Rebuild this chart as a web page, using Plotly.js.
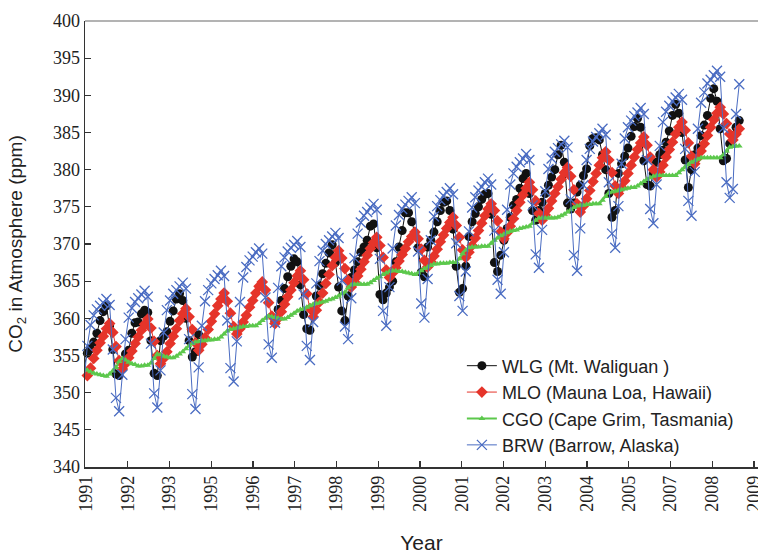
<!DOCTYPE html>
<html>
<head>
<meta charset="utf-8">
<script src="https://cdn.plot.ly/plotly-3.0.1.min.js"></script>
<style>html,body{margin:0;padding:0;background:#fff;}#chart{width:758px;height:554px;}</style>
</head>
<body>
<div id="chart"></div>
<script>
// Tick labels as printed on the original x axis (1994 and 2006 are absent there)
const yearLabels = ['1991','1992','1993','1995','1996','1997','1998','1999','2000','2001','2002','2003','2004','2005','2007','2008','2009'];

// Monthly CO2 (ppm)
const wlg = [
348.0,353.5,355.3,355.9,356.8,358.0,359.7,360.9,361.7,359.0,355.8,352.5,352.3,
354.2,355.2,355.7,358.0,359.4,359.5,360.6,361.1,360.8,357.0,352.6,352.3,
357.0,357.6,358.2,359.6,361.0,362.6,363.3,362.4,360.0,357.0,354.8,355.5,357.8,
null,null,null,null,null,null,null,null,null,null,null,null,null,null,null,null,null,null,null,null,null,null,null,
359.6,361.2,362.4,364.0,365.6,367.0,368.0,367.6,364.5,360.5,358.6,358.4,
361.0,363.0,364.4,366.0,367.4,368.8,369.9,367.5,364.2,361.0,359.7,363.0,
365.5,366.5,367.6,368.9,369.6,370.5,372.4,372.7,369.5,363.2,362.5,363.4,
364.2,365.0,367.6,369.6,371.8,374.2,374.2,373.0,371.5,369.5,366.2,365.6,
369.6,370.5,371.6,373.0,374.5,375.6,375.8,374.5,372.0,367.0,363.5,364.0,
367.0,371.0,373.0,374.1,375.0,376.0,376.7,376.8,374.0,367.5,366.3,368.5,
370.5,372.1,373.6,375.2,376.0,377.5,378.8,379.5,376.8,374.5,373.2,374.5,
375.6,376.8,377.9,379.0,380.0,382.0,383.3,381.0,375.5,374.7,375.5,377.0,
377.9,379.2,380.1,383.2,384.2,384.3,384.0,382.0,380.0,376.8,373.6,374.5,
379.5,380.8,381.8,382.9,384.5,385.8,386.9,385.7,381.2,378.0,377.8,379.5,
381.0,382.0,382.6,383.7,385.2,387.3,388.8,387.6,385.0,381.3,377.6,380.0,
382.0,382.9,384.6,386.0,387.3,389.6,390.9,389.2,385.5,381.2,381.5,383.5,
384.6,385.7,386.6];

const mlo = [
353.3,352.5,352.3,353.3,354.6,355.7,356.7,357.6,358.6,359.3,358.1,356.2,354.3,
353.2,353.9,354.7,355.6,356.6,357.5,358.4,359.2,359.9,358.7,356.9,355.0,
353.9,354.6,355.5,356.6,357.6,358.6,359.7,360.6,361.3,360.2,358.5,356.7,
355.7,356.5,357.4,358.5,359.6,360.6,361.7,362.6,363.4,362.3,360.7,358.9,
357.9,358.6,359.5,360.4,361.5,362.4,363.4,364.3,364.9,363.8,362.1,360.3,
359.3,360.0,360.9,361.9,362.9,363.8,364.8,365.7,366.4,365.2,363.3,361.3,
360.2,361.1,362.2,363.4,364.7,365.9,367.1,368.2,369.1,368.1,366.7,365.1,
364.2,364.9,365.7,366.6,367.6,368.5,369.4,370.2,370.9,369.8,368.2,366.5,
365.5,366.1,366.8,367.7,368.6,369.4,370.3,371.0,371.6,370.7,369.3,367.8,
366.9,367.6,368.4,369.3,370.3,371.2,372.1,372.9,373.6,372.5,370.9,369.2,
368.2,368.9,369.8,370.8,371.8,372.8,373.8,374.7,375.4,374.5,373.1,371.6,
370.7,371.5,372.4,373.4,374.5,375.6,376.6,377.5,378.3,377.3,375.8,374.1,
373.2,373.9,374.8,375.8,376.8,377.7,378.7,379.6,380.3,379.1,377.3,375.4,
374.3,375.1,376.1,377.2,378.4,379.5,380.6,381.6,382.4,381.3,379.6,377.8,
376.8,377.6,378.5,379.5,380.6,381.7,382.7,383.6,384.4,383.3,381.7,380.0,
379.0,379.7,380.6,381.7,382.7,383.7,384.8,385.7,386.4,385.3,383.6,381.8,
380.8,381.6,382.5,383.5,384.6,385.7,386.7,387.6,388.4,387.5,386.2,384.8,
384.0,384.8,385.5];

const cgo = [
353.6,353.3,353.0,352.8,352.6,352.5,352.4,352.3,352.2,352.5,352.9,353.4,354.2,
354.6,354.4,354.1,353.9,353.8,353.6,353.6,353.7,353.7,354.0,354.6,355.2,
355.1,354.9,354.8,354.7,354.7,354.9,355.2,355.5,355.9,356.3,356.6,356.8,
356.9,357.0,357.0,357.1,357.1,357.2,357.2,357.5,357.9,358.3,358.5,358.6,
358.7,358.8,358.9,358.9,359.0,359.0,359.0,359.3,359.7,360.0,360.3,360.2,
360.1,360.0,359.9,359.9,360.1,360.4,360.7,361.0,361.2,361.3,361.5,361.7,
361.9,362.0,362.1,362.2,362.3,362.5,362.6,362.8,363.0,363.3,363.5,364.1,
364.5,364.6,364.6,364.6,364.6,364.6,364.8,365.1,365.4,365.6,365.9,366.1,
366.3,366.4,366.4,366.3,366.3,366.2,366.1,366.0,365.9,366.1,366.4,366.7,
366.9,367.1,367.3,367.3,367.4,367.4,367.4,367.5,367.5,367.5,368.0,368.7,
369.2,369.5,369.6,369.6,369.6,369.7,369.7,369.7,370.1,370.5,370.8,371.1,
371.3,371.5,371.7,371.8,371.9,372.1,372.2,372.3,372.4,372.8,373.2,373.5,
373.5,373.5,373.5,373.5,373.5,373.6,373.8,374.0,374.3,374.6,374.9,375.1,
375.2,375.2,375.3,375.3,375.4,375.4,375.4,375.9,376.4,376.9,377.0,377.1,
377.2,377.3,377.4,377.5,377.6,377.6,377.8,378.1,378.4,378.7,378.9,379.1,
379.2,379.2,379.2,379.2,379.2,379.2,379.2,379.6,380.0,380.4,380.7,381.0,
381.2,381.4,381.6,381.6,381.6,381.6,381.6,381.6,381.6,382.0,382.5,383.0,
383.1,383.2,383.2];

const brw = [
346.9,351.6,356.3,359.1,360.4,361.2,361.7,362.1,362.6,361.8,355.8,349.3,
347.5,352.4,357.2,360.1,361.4,362.2,362.7,363.2,363.7,362.9,356.6,349.9,
348.0,353.0,358.1,361.1,362.4,363.3,363.8,364.3,364.8,364.0,357.2,349.8,
347.8,353.4,359.0,362.3,363.8,364.7,365.3,365.8,366.4,365.7,359.7,353.3,
351.5,356.9,362.2,365.5,366.9,367.8,368.3,368.9,369.4,368.7,362.8,356.5,
354.7,359.4,364.1,367.0,368.2,369.0,369.5,369.9,370.4,369.6,363.2,356.3,
354.4,359.5,364.7,367.7,369.1,370.0,370.5,371.0,371.5,370.8,365.1,358.9,
357.2,362.7,368.1,371.4,372.9,373.8,374.3,374.9,375.4,374.6,368.0,361.0,
359.0,364.2,369.4,372.5,373.9,374.7,375.3,375.8,376.3,375.5,369.0,362.0,
360.1,365.3,370.5,373.7,375.1,375.9,376.5,377.0,377.5,376.7,370.1,363.0,
361.0,366.3,371.7,374.9,376.3,377.2,377.7,378.3,378.8,378.0,371.8,365.2,
363.3,368.9,374.6,378.0,379.5,380.4,381.0,381.5,382.1,381.3,375.2,368.6,
366.8,371.9,377.1,380.1,381.5,382.4,382.9,383.4,383.9,383.0,376.0,368.5,
366.4,372.1,377.9,381.3,382.8,383.8,384.4,384.9,385.5,384.7,378.3,371.4,
369.5,375.1,380.8,384.2,385.7,386.6,387.2,387.7,388.3,387.5,381.3,374.7,
372.8,378.0,383.2,386.4,387.8,388.6,389.2,389.7,390.2,389.4,382.8,375.8,
373.8,379.7,385.5,389.0,390.4,391.6,392.1,392.7,393.3,392.5,385.6,378.3,
376.2,377.4,387.5,391.5];

const months = brw.map((_, i) => i); // month index of each sample

// layout helpers (tick placement on the month-index axis)
const tickStart = 1.57, tickStep = 13.13;
const tickVals = yearLabels.map((_, k) => tickStart + tickStep * k);

const serif = 'Liberation Serif, Times New Roman, serif';
const sans = 'Liberation Sans, Arial, sans-serif';

const traces = [
  {name: 'WLG (Mt. Waliguan )', x: months, y: wlg, type: 'scatter', mode: 'lines+markers',
   connectgaps: false, cliponaxis: false,
   line: {color: '#111111', width: 1}, marker: {symbol: 'circle', size: 9, color: '#111111'}},
  {name: 'MLO (Mauna Loa, Hawaii)', x: months, y: mlo, type: 'scatter', mode: 'lines+markers',
   cliponaxis: false,
   line: {color: '#e5342a', width: 1}, marker: {symbol: 'diamond', size: 9, color: '#e5342a'}},
  {name: 'CGO (Cape Grim, Tasmania)', x: months, y: cgo, type: 'scatter', mode: 'lines+markers',
   cliponaxis: false,
   line: {color: '#5cc84c', width: 2}, marker: {symbol: 'triangle-up', size: 6, color: '#5cc84c'}},
  {name: 'BRW (Barrow, Alaska)', x: months, y: brw, type: 'scatter', mode: 'lines+markers',
   cliponaxis: false,
   line: {color: '#4a6cc2', width: 1}, marker: {symbol: 'x-thin', size: 10, color: '#4a6cc2', line: {color: '#4a6cc2', width: 1.3}}}
];

const layout = {
  width: 758, height: 554,
  margin: {l: 85, r: 0, t: 21, b: 87},
  paper_bgcolor: '#ffffff', plot_bgcolor: '#ffffff',
  showlegend: true,
  legend: {x: 0.56, y: 0.268, xanchor: 'left', yanchor: 'top', bgcolor: 'rgba(0,0,0,0)',
           font: {family: sans, size: 18, color: '#222'}, tracegroupgap: 0},
  xaxis: {
    range: [1.26, 212.9], showgrid: false, zeroline: false,
    tickmode: 'array', tickvals: tickVals, ticktext: yearLabels, tickangle: -90,
    ticklabeloverflow: 'allow',
    ticks: 'inside', ticklen: 6, tickcolor: '#333', tickwidth: 1.2,
    showline: true, linecolor: '#333', linewidth: 1.5,
    tickfont: {family: serif, size: 18, color: '#222'},
    title: {text: 'Year', font: {family: sans, size: 21, color: '#222'}, standoff: 27}
  },
  yaxis: {
    range: [340, 400], dtick: 5, tick0: 340, showgrid: false, zeroline: false,
    ticks: 'inside', ticklen: 6, tickcolor: '#333', tickwidth: 1.2,
    showline: true, linecolor: '#333', linewidth: 1.5,
    tickfont: {family: serif, size: 18, color: '#222'},
    title: {text: 'CO<sub>2</sub> in Atmosphere (ppm)', font: {family: sans, size: 19, color: '#222'}, standoff: 25}
  },
  shapes: [
    {type: 'line', xref: 'paper', yref: 'paper', x0: 0, x1: 1, y0: 1, y1: 1,
     line: {color: '#9a9a9a', width: 1.5}}
  ]
};

Plotly.newPlot('chart', traces, layout, {displayModeBar: false, staticPlot: true});
</script>
</body>
</html>
